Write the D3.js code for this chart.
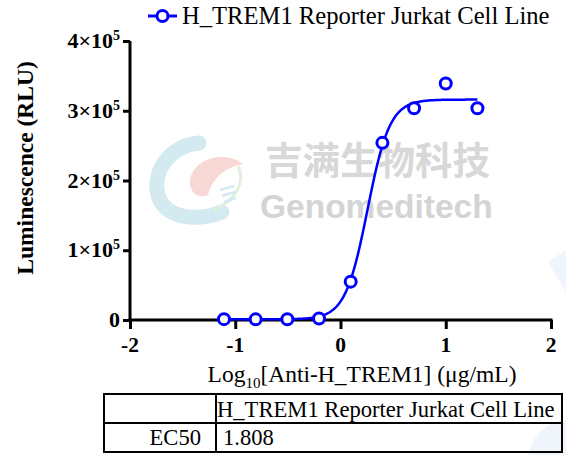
<!DOCTYPE html>
<html>
<head>
<meta charset="utf-8">
<script src="https://cdn.jsdelivr.net/npm/d3@7"></script>
<style>
  html, body { margin: 0; padding: 0; background: #fff; }
  svg { display: block; }
</style>
</head>
<body>
<div id="chart"></div>
<script>
// dose-response data (log10 ug/mL vs RLU)
const seriesName = 'H_TREM1 Reporter Jurkat Cell Line';
const logConc = [-1.107, -0.806, -0.505, -0.204, 0.097, 0.398, 0.699, 1.000, 1.301];
const luminescence = [1200, 900, 1000, 2200, 55000, 254000, 303500, 339000, 303500];

// 4PL fit parameters (EC50 = 1.808 ug/mL)
const fitBottom = 1000;
const fitTop = 316000;
const fitEC50 = 1.808;
const fitHill = 4.1;

const xTicks = [-2, -1, 0, 1, 2];
const yTicks = [0, 1, 2, 3, 4];   // x 10^5

const tableHeader = ['', seriesName];
const tableRow = ['EC50', '1.808'];

const width = 566;
const height = 455;
const blue = '#0000ff';
const serif = '"Liberation Serif", "Times New Roman", serif';

const svg = d3.select('#chart')
    .append('svg')
    .attr('width', width)
    .attr('height', height);

const x = d3.scaleLinear().domain([-2, 2]).range([130, 551]);
const y = d3.scaleLinear().domain([0, 400000]).range([320, 41]);

// watermark
const wm = svg.append('g').attr('class', 'watermark');
wm.append('path')
    .attr('d', 'M199 143 C 170 146, 150 172, 159 198 C 167 218, 196 222, 222 212')
    .attr('fill', 'none')
    .attr('stroke', '#d3eaf1')
    .attr('stroke-width', 15)
    .attr('stroke-linecap', 'round');
wm.append('path')
    .attr('d', 'M243 164 C 225 150, 193 158, 190 181 C 189 193, 199 199, 208 195 C 212 178, 226 167, 243 164 Z')
    .attr('fill', '#f8d8d4');
wm.append('path')
    .attr('d', 'M238 166 C 246 182, 236 200, 214 210')
    .attr('fill', 'none')
    .attr('stroke', '#e0f0dc')
    .attr('stroke-width', 3);
[0, 1, 2].forEach(i => {
    wm.append('line')
        .attr('x1', 220 + i * 2).attr('y1', 190 + i * 6)
        .attr('x2', 234 + i * 1).attr('y2', 186 + i * 6)
        .attr('stroke', '#d3e9f4').attr('stroke-width', 2.5);
});
wm.append('text')
    .attr('x', 265).attr('y', 174)
    .attr('font-family', '"Noto Sans CJK SC", sans-serif')
    .attr('font-weight', 'bold')
    .attr('font-size', 37.5)
    .attr('fill', '#d8d8d8')
    .text('吉满生物科技');
wm.append('text')
    .attr('x', 260).attr('y', 218)
    .attr('font-family', '"Liberation Sans", Arial, sans-serif')
    .attr('font-weight', 'bold')
    .attr('font-size', 33.5)
    .attr('fill', '#d4d4d4')
    .text('Genomeditech');
wm.append('path')
    .attr('d', 'M566 250 L 548 262 L 566 292 Z')
    .attr('fill', '#f0f4fb');
wm.append('path')
    .attr('d', 'M528 455 C 532 435, 548 422, 566 420 L 566 455 Z')
    .attr('fill', '#f0f4fb');

// axes
const yAxis = d3.axisLeft(y)
    .tickValues(yTicks.map(d => d * 1e5))
    .tickSize(7)
    .tickFormat('');
const xAxis = d3.axisBottom(x)
    .tickValues(xTicks)
    .tickSize(9)
    .tickFormat('');

const gy = svg.append('g')
    .attr('transform', `translate(${x(-2)},0)`)
    .call(yAxis);
const gx = svg.append('g')
    .attr('transform', `translate(0,${y(0)})`)
    .call(xAxis);

[gx, gy].forEach(g => {
    g.select('.domain').attr('stroke', '#000').attr('stroke-width', 3);
    g.selectAll('.tick line').attr('stroke', '#000').attr('stroke-width', 3);
});
// straight domain ends (no outer tick caps)
gy.select('.domain').attr('d', `M0,${y(400000)}V${y(0) + 1.5}`);
gx.select('.domain').attr('d', `M${x(-2) - 1.5},0H${x(2) + 1.5}`);

// y tick labels  n×10^5
yTicks.forEach(t => {
    const lbl = svg.append('text')
        .attr('x', x(-2) - 10)
        .attr('y', y(t * 1e5) + 7)
        .attr('text-anchor', 'end')
        .attr('font-family', serif)
        .attr('font-weight', 'bold')
        .attr('font-size', 22);
    if (t === 0) {
        lbl.text('0');
    } else {
        lbl.append('tspan').text(t + '×10');
        lbl.append('tspan').attr('dy', -8).attr('font-size', 14).text('5');
    }
});

// x tick labels
svg.selectAll('.xlbl')
    .data(xTicks)
    .enter()
    .append('text')
    .attr('class', 'xlbl')
    .attr('x', d => x(d))
    .attr('y', 352)
    .attr('text-anchor', 'middle')
    .attr('font-family', serif)
    .attr('font-weight', 'bold')
    .attr('font-size', 21.5)
    .text(d => d);

// axis titles
svg.append('text')
    .attr('transform', 'translate(33,168) rotate(-90)')
    .attr('text-anchor', 'middle')
    .attr('font-family', serif)
    .attr('font-weight', 'bold')
    .attr('font-size', 23.5)
    .text('Luminescence (RLU)');

const xt = svg.append('text')
    .attr('x', 362)
    .attr('y', 382)
    .attr('text-anchor', 'middle')
    .attr('font-family', serif)
    .attr('font-size', 23.5);
xt.append('tspan').text('Log');
xt.append('tspan').attr('dy', 6).attr('font-size', 15).text('10');
xt.append('tspan').attr('dy', -6).text('[Anti-H_TREM1] (μg/mL)');

// fitted curve
const logEC50 = Math.log10(fitEC50);
const fit = v => fitBottom + (fitTop - fitBottom) / (1 + Math.pow(10, (logEC50 - v) * fitHill));
const curveX = d3.range(0, 201).map(i => logConc[0] + (logConc[logConc.length - 1] - logConc[0]) * i / 200);

svg.append('path')
    .datum(curveX)
    .attr('fill', 'none')
    .attr('stroke', blue)
    .attr('stroke-width', 2.5)
    .attr('d', d3.line().x(d => x(d)).y(d => y(fit(d))));

// data points
svg.selectAll('.pt')
    .data(logConc.map((c, i) => [c, luminescence[i]]))
    .enter()
    .append('circle')
    .attr('class', 'pt')
    .attr('cx', d => x(d[0]))
    .attr('cy', d => y(d[1]))
    .attr('r', 5.5)
    .attr('fill', '#fff')
    .attr('stroke', blue)
    .attr('stroke-width', 3);

// legend
const lg = svg.append('g');
lg.append('line')
    .attr('x1', 148).attr('x2', 177)
    .attr('y1', 16).attr('y2', 16)
    .attr('stroke', blue).attr('stroke-width', 3);
lg.append('circle')
    .attr('cx', 162.5).attr('cy', 16).attr('r', 5.5)
    .attr('fill', '#fff').attr('stroke', blue).attr('stroke-width', 3);
lg.append('text')
    .attr('x', 182).attr('y', 24)
    .attr('font-family', serif)
    .attr('font-size', 24.6)
    .text(seriesName);

// EC50 table
const tb = svg.append('g');
const tLeft = 104, tRight = 562, tDiv = 216, tTop = 394, tMid = 423, tBot = 452;
tb.append('rect')
    .attr('x', tLeft).attr('y', tTop)
    .attr('width', tRight - tLeft).attr('height', tBot - tTop)
    .attr('fill', 'none').attr('stroke', '#000').attr('stroke-width', 2);
tb.append('line')
    .attr('x1', tLeft).attr('x2', tRight).attr('y1', tMid).attr('y2', tMid)
    .attr('stroke', '#000').attr('stroke-width', 2);
tb.append('line')
    .attr('x1', tDiv).attr('x2', tDiv).attr('y1', tTop).attr('y2', tBot)
    .attr('stroke', '#000').attr('stroke-width', 2);
tb.append('text')
    .attr('x', tDiv + 1).attr('y', tMid - 6)
    .attr('font-family', serif).attr('font-size', 22.6)
    .text(tableHeader[1]);
tb.append('text')
    .attr('x', tDiv - 15).attr('y', tBot - 7)
    .attr('text-anchor', 'end')
    .attr('font-family', serif).attr('font-size', 22.6)
    .text(tableRow[0]);
tb.append('text')
    .attr('x', tDiv + 7).attr('y', tBot - 7)
    .attr('font-family', serif).attr('font-size', 22.6)
    .text(tableRow[1]);
</script>
</body>
</html>
